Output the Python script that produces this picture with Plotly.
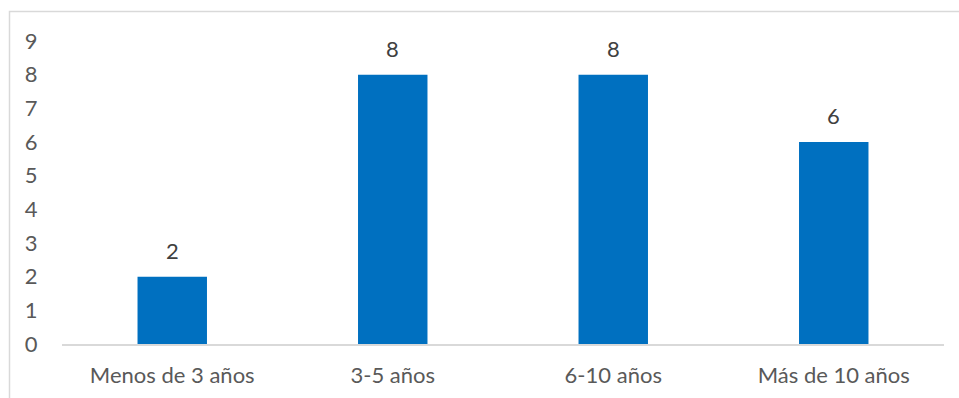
import plotly.graph_objects as go

categories = ["Menos de 3 años", "3-5 años", "6-10 años", "Más de 10 años"]
values = [2, 8, 8, 6]
y_ticks = [0, 1, 2, 3, 4, 5, 6, 7, 8, 9]

W, H = 959, 398
L, R, T, B = 62, 15, 41, 54
pw, ph = W - L - R, H - T - B

font_family = "Lato, Open Sans, sans-serif"
font_size = 22
txt_color = "#595959"
bar_color = "#0070c0"

fig = go.Figure(
    go.Bar(
        x=categories,
        y=values,
        marker=dict(color=bar_color, line=dict(width=0)),
        width=0.315,
        hoverinfo="skip",
    )
)

# value labels above each bar
for c, v in zip(categories, values):
    fig.add_annotation(
        x=c, y=v, text=str(v), showarrow=False,
        yanchor="bottom", yshift=11,
        font=dict(family=font_family, size=font_size, color="#404040"),
    )

# chart-area border (right and bottom edges fall outside the page)
fig.add_shape(
    type="rect", xref="paper", yref="paper",
    x0=(9.5 - L) / pw, x1=(W + 10 - L) / pw,
    y0=-(H + 10 - (T + ph)) / ph, y1=(T + ph - 11.5) / ph,
    line=dict(color="#d9d9d9", width=1.5), fillcolor="rgba(0,0,0,0)",
    layer="below",
)

fig.update_layout(
    width=W, height=H,
    margin=dict(l=L, r=R, t=T, b=B, autoexpand=False),
    paper_bgcolor="white", plot_bgcolor="white",
    showlegend=False,
    font=dict(family=font_family, size=font_size, color=txt_color),
    xaxis=dict(
        showgrid=False, showline=True, linecolor="#d9d9d9", linewidth=1.5,
        ticks="outside", ticklen=11, tickcolor="rgba(0,0,0,0)",
        tickfont=dict(size=font_size, color=txt_color), fixedrange=True,
        automargin=False,
    ),
    yaxis=dict(
        range=[0, 9], tickvals=y_ticks, showgrid=False, zeroline=False,
        showline=False, ticks="outside", ticklen=19, tickcolor="rgba(0,0,0,0)",
        tickfont=dict(size=font_size, color=txt_color), fixedrange=True,
        automargin=False,
    ),
)

fig.write_html("out.html")
